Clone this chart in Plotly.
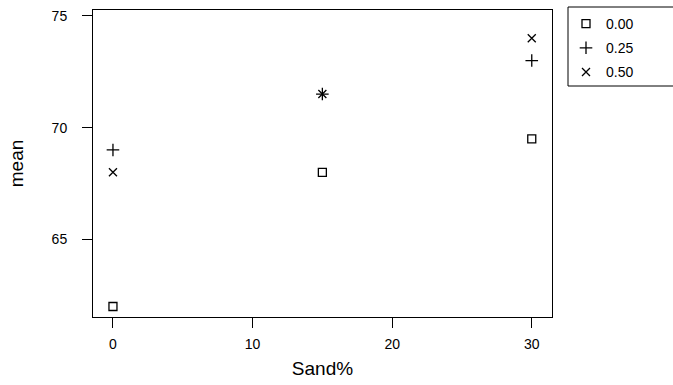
import plotly.graph_objects as go

sand = [0, 15, 30]
mean_000 = [62.0, 68.0, 69.5]
mean_025 = [69.0, 71.5, 73.0]
mean_050 = [68.0, 71.5, 74.0]
series_names = ["0.00", "0.25", "0.50"]

FONT = "Liberation Sans, Arial, Helvetica, sans-serif"

fig = go.Figure()
symbols = ["square-open", "cross-thin-open", "x-thin-open"]
sizes = [8, 9, 8]
for i, (name, vals) in enumerate(zip(series_names, [mean_000, mean_025, mean_050])):
    fig.add_trace(go.Scatter(
        x=sand, y=vals, mode="markers", name=name, legendgroup=name,
        marker=dict(symbol=symbols[i], size=sizes[i], color="black",
                    line=dict(color="black", width=1.3)),
        cliponaxis=False,
    ))

L, R, T, B = 93, 121, 10, 68
W, H = 673, 385
pw = W - L - R
ph = H - T - B

fig.update_layout(
    width=W, height=H,
    margin=dict(l=L, r=R, t=T, b=B, pad=0, autoexpand=False),
    paper_bgcolor="white", plot_bgcolor="white",
    font=dict(family=FONT, color="black", size=14),
    showlegend=True,
    legend=dict(
        x=(566 - L) / pw, y=1 + (T - 8) / ph, xanchor="left", yanchor="top",
        font=dict(family=FONT, size=14, color="black"),
        bgcolor="rgba(0,0,0,0)", borderwidth=0,
        tracegroupgap=3, itemwidth=30,
    ),
    xaxis=dict(
        range=[-1.43, 31.45], tickvals=[0, 10, 20, 30], ticktext=["0", "10", "20", "30"],
        showgrid=False, zeroline=False, showline=True, linecolor="black", linewidth=1,
        mirror=True, ticks="outside", ticklen=10, tickcolor="black", tickwidth=1,
        tickfont=dict(family=FONT, size=14, color="black"),
        ticklabelstandoff=4,
        title=dict(text="Sand%", font=dict(family=FONT, size=19, color="black"), standoff=10),
    ),
    yaxis=dict(
        range=[61.53, 75.26], tickvals=[65, 70, 75], ticktext=["65", "70", "75"],
        showgrid=False, zeroline=False, showline=True, linecolor="black", linewidth=1,
        mirror=True, ticks="outside", ticklen=10, tickcolor="black", tickwidth=1,
        tickfont=dict(family=FONT, size=14, color="black"),
        ticklabelstandoff=12,
        title=dict(text="mean", font=dict(family=FONT, size=19, color="black"), standoff=22),
    ),
)

# legend frame (extends past the right edge like the reference)
fig.add_shape(type="rect", xref="paper", yref="paper",
              x0=(568 - L) / pw, x1=(690 - L) / pw,
              y0=1 - (86 - T) / ph, y1=1 + (T - 7) / ph,
              line=dict(color="black", width=1), fillcolor="rgba(0,0,0,0)", layer="above")

fig.write_html("out.html", config={"displayModeBar": False},
               post_script="document.body.style.margin='0';document.body.style.overflow='hidden';")
